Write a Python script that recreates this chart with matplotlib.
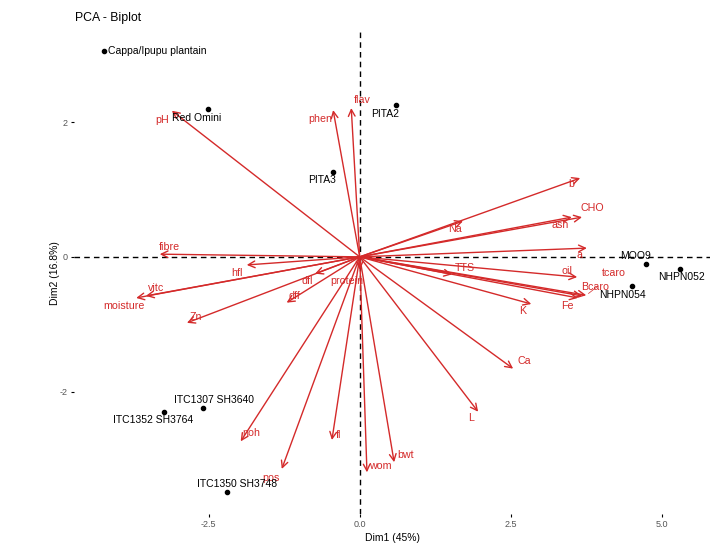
import matplotlib
matplotlib.use("Agg")
import matplotlib.pyplot as plt

plt.rcParams['font.family'] = ['Liberation Sans', 'DejaVu Sans']
plt.rcParams['axes.unicode_minus'] = False

# individuals (scores on Dim1, Dim2)
ind_names = ["Cappa/Ipupu plantain", "Red Omini", "PITA2", "PITA3", "MOO9",
             "NHPN052", "NHPN054", "ITC1307 SH3640", "ITC1352 SH3764",
             "ITC1350 SH3748"]
ind_x = [-4.23, -2.51, 0.60, -0.44, 4.74, 5.31, 4.51, -2.59, -3.24, -2.20]
ind_y = [3.06, 2.20, 2.26, 1.26, -0.11, -0.18, -0.43, -2.24, -2.31, -3.49]

# variables (arrow tips)
var_names = ["pH", "phen", "flav", "b", "CHO", "ash", "Na", "a", "oil",
             "tcaro", "Bcaro", "Fe", "TTS", "K", "Ca", "L", "bwt", "wom",
             "fl", "pos", "noh", "Zn", "moisture", "vitc", "fibre", "hfl",
             "dfl", "dff", "protein"]
var_x = [-3.11, -0.44, -0.14, 3.65, 3.68, 3.51, 1.71, 3.76, 3.60, 3.75,
         3.68, 3.61, 1.53, 2.84, 2.54, 1.96, 0.57, 0.12, -0.46, -1.29,
         -1.97, -2.86, -3.70, -3.54, -3.31, -1.87, -0.74, -1.21, 0.00]
var_y = [2.17, 2.18, 2.21, 1.17, 0.59, 0.59, 0.53, 0.13, -0.30, -0.57,
         -0.58, -0.61, -0.26, -0.70, -1.66, -2.30, -3.05, -3.20, -2.72,
         -3.15, -2.74, -0.98, -0.61, -0.58, 0.04, -0.12, -0.25, -0.68, -0.19]

# label offsets in pixels (repelled placement)
ind_off = [(4, 0), (-11, -9), (-11, -9), (-11, -8), (-11, 8), (1, -8),
           (-10, -9), (11, 8), (-11, -8), (10, 8)]
var_off = [(-10, -9), (-13, -9), (11, 8), (-9, -6), (10, 9), (-12, -8),
           (-8, -8), (-7, -7), (-10, 6), (28, 22), (13, 9), (-10, -8),
           (13, 6), (-9, -7), (11, 8), (-7, -6), (11, 7), (13, 6), (7, 5),
           (-11, -9), (11, 8), (9, 6), (-12, -8), (10, 8), (10, 7),
           (-10, -8), (-8, -7), (8, 7), (-13, -11)]

red = "#d42a2a"

fig = plt.figure(figsize=(7.18, 5.51), dpi=100)
ax = fig.add_axes([0.103, 0.067, 0.886, 0.875])
ax.set_xlim(-4.73, 5.80)
ax.set_ylim(-3.82, 3.34)

ax.axhline(0, color="black", ls=(0, (4, 3)), lw=1, zorder=1)
ax.axvline(0, color="black", ls=(0, (4, 3)), lw=1, zorder=1)

for name, x, y, off in zip(var_names, var_x, var_y, var_off):
    ax.annotate("", xy=(x, y), xytext=(0, 0),
                arrowprops=dict(arrowstyle="->", color=red, lw=1.0,
                                mutation_scale=12, shrinkA=0, shrinkB=0),
                zorder=2)
    if name == "tcaro":
        ax.annotate(name, xy=(x, y), xytext=off, textcoords="offset pixels",
                    color=red, fontsize=7.7, ha="center", va="center",
                    arrowprops=dict(arrowstyle="-", color=red, lw=0.5,
                                    shrinkA=6, shrinkB=2))
    else:
        ax.annotate(name, xy=(x, y), xytext=off, textcoords="offset pixels",
                    color=red, fontsize=7.7, ha="center", va="center")

ax.scatter(ind_x, ind_y, s=9, color="black", zorder=3)
for name, x, y, off in zip(ind_names, ind_x, ind_y, ind_off):
    ha = "left" if off == (4, 0) else "center"
    ax.annotate(name, xy=(x, y), xytext=off, textcoords="offset pixels",
                color="black", fontsize=7.5, ha=ha, va="center", zorder=4)

for s in ax.spines.values():
    s.set_visible(False)
ax.set_xticks([-2.5, 0.0, 2.5, 5.0])
ax.set_xticklabels(["-2.5", "0.0", "2.5", "5.0"])
ax.set_yticks([-2, 0, 2])
ax.set_yticklabels(["-2", "0", "2"])
ax.tick_params(length=2.5, width=0.8, colors="black", labelcolor="#555555",
               labelsize=6.5, pad=2)
ax.set_xlabel("Dim1 (45%)", fontsize=7.5, labelpad=3)
ax.set_ylabel("Dim2 (16.8%)", fontsize=7.5, labelpad=0)
fig.text(0.104, 0.968, "PCA - Biplot", fontsize=8.8, va="center")

fig.savefig("out.png", dpi=100)
